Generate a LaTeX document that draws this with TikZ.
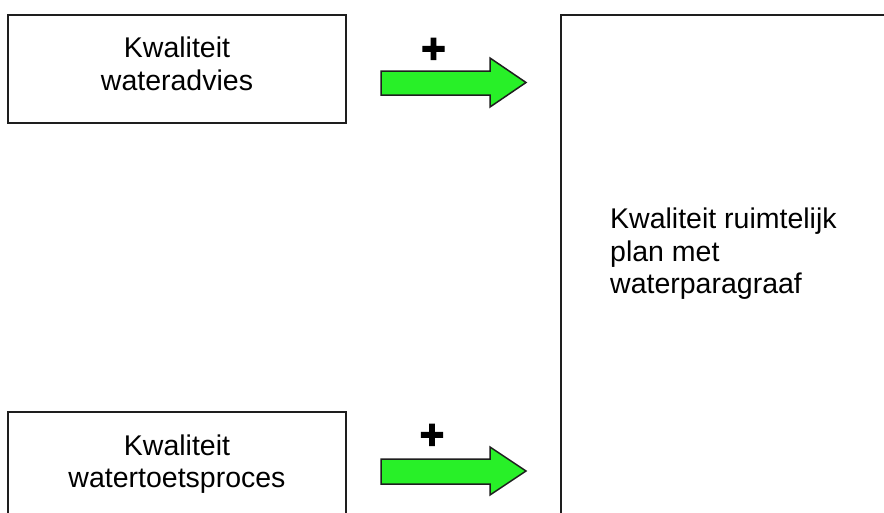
\documentclass[tikz,border=0pt]{standalone}
\usepackage{fontspec}
\setmainfont{Liberation Sans}
\newfontfamily\plusfont{Liberation Sans}[BoldFont={Liberation Sans Bold}, BoldFeatures={FakeBold=3}]
\definecolor{arrowgreen}{RGB}{40,240,40}
\definecolor{edge}{RGB}{30,30,30}
\begin{document}
\begin{tikzpicture}[x=1pt,y=-1pt,
  box/.style={draw=edge, line width=2pt, fill=white},
  lbl/.style={font=\fontsize{28.5}{33}\selectfont, inner sep=0pt},
  plussign/.style={font=\plusfont\fontsize{42}{42}\selectfont\bfseries, inner sep=0pt},
  blockarrow/.style={draw=edge, line width=1.5pt, fill=arrowgreen, line join=miter}]
\useasboundingbox (0,0) rectangle (884,512);
\clip (0,0) rectangle (884,512);
\fill[white] (0,0) rectangle (884,512);
% boxes
\draw[box] (8,15) rectangle (346,123);
\draw[box] (8,412) rectangle (346,540);
\draw[box] (561,15) rectangle (900,540);
% box texts
\node[lbl, anchor=base] (a1) at (177,57.5) {Kwaliteit};
\node[lbl, anchor=base] (a2) at (177,90.5) {wateradvies};
\node[lbl, anchor=base] (b1) at (177,455) {Kwaliteit};
\node[lbl, anchor=base] (b2) at (177,487.5) {watertoetsproces};
\node[lbl, anchor=base west] (c1) at (610,228) {Kwaliteit ruimtelijk};
\node[lbl, anchor=base west] (c2) at (610,261) {plan met};
\node[lbl, anchor=base west] (c3) at (610,293) {waterparagraaf};
% block arrows
\draw[blockarrow] (381,71) -- (490,71) -- (490,58) -- (526,82.5) -- (490,107) -- (490,95) -- (381,95) -- cycle;
\draw[blockarrow] (381,459) -- (490,459) -- (490,447) -- (526,471) -- (490,495) -- (490,484) -- (381,484) -- cycle;
% plus signs
\node[plussign] (p1) at (433.5,50.5) {+};
\node[plussign] (p2) at (432,436.5) {+};
\end{tikzpicture}
\end{document}
